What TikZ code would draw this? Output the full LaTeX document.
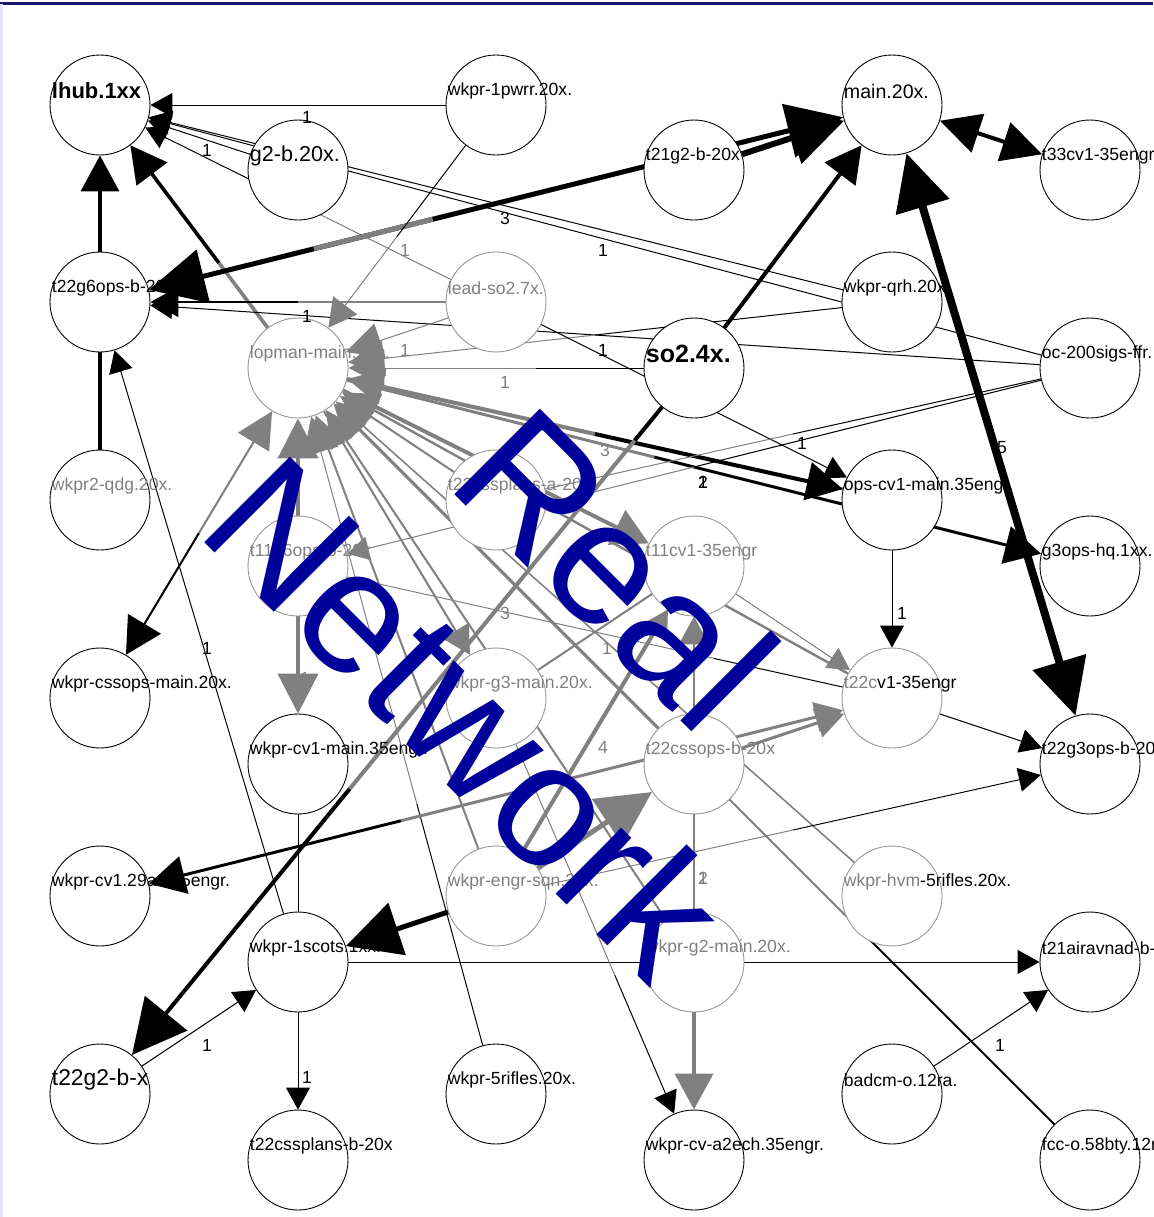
\documentclass[tikz,border=0pt]{standalone}
\usepackage{fontspec}
\setmainfont{Liberation Sans}
\usetikzlibrary{arrows.meta,calc,backgrounds}
\definecolor{wmblue}{RGB}{0,0,155}
\definecolor{edgegray}{RGB}{128,128,128}
\definecolor{ringgray}{RGB}{150,150,150}
\definecolor{framenavy}{RGB}{20,20,110}
\definecolor{leftedge}{RGB}{225,228,240}
\tikzset{
  vtx/.style={circle,draw=black,fill=white,line width=0.45pt,minimum size=50pt,inner sep=0pt},
  gvtx/.style={vtx,draw=ringgray},
  lbl/.style={font=\fontsize{8.8}{10}\selectfont,inner sep=0pt,anchor=west,xshift=1pt,yshift=7pt},
  glbl/.style={lbl,text=edgegray},
  wt/.style={font=\fontsize{8.8}{10}\selectfont,inner sep=0pt},
  gwt/.style={wt,text=edgegray},
  thinedge/.style={line width=0.5pt},
  tipS/.style={-{Triangle[length=11pt,width=12pt]}},
  tipM/.style={-{Triangle[length=14pt,width=15pt]}},
  tipG/.style={-{Triangle[length=18pt,width=18pt]}},
  tipL/.style={-{Triangle[length=18pt,width=19pt]}},
  tipX/.style={-{Triangle[length=27pt,width=27pt]}},
  rtipL/.style={{Triangle[length=18pt,width=19pt]}-},
  dtipL/.style={{Triangle[length=20pt,width=20pt]}-{Triangle[length=20pt,width=20pt]}},
  dtipX/.style={{Triangle[length=28pt,width=27pt]}-{Triangle[length=28pt,width=27pt]}},
  wm/.style={font=\fontsize{88}{105}\selectfont,text=wmblue,rotate=-45,inner sep=0pt,anchor=base}
}
\begin{document}
\begin{tikzpicture}[x=0.5pt,y=-0.5pt]
  \useasboundingbox (0,0) rectangle (1153,1217);
  % row 1
  \node[vtx,label={[lbl,font=\bfseries\fontsize{11}{12}\selectfont]west:lhub.1xx}] (lhub) at (100,105) {};
  \node[vtx,label={[lbl,font=\fontsize{10.8}{12}\selectfont]west:g2-b.20x.}] (gtwob) at (298,170) {};
  \node[vtx,label={[lbl]west:wkpr-1pwrr.20x.}] (pwrr) at (496,105) {};
  \node[vtx,label={[lbl]west:t21g2-b-20x}] (tgtwob) at (694,170) {};
  \node[vtx,label={[lbl,font=\fontsize{9.8}{11}\selectfont]west:main.20x.}] (mainx) at (892,105) {};
  \node[vtx,label={[lbl]west:t33cv1-35engr}] (tcvengr) at (1090,170) {};
  % row 2
  \node[vtx,label={[lbl]west:t22g6ops-b-20x}] (tgsix) at (100,302) {};
  \node[gvtx,label={[glbl]west:lopman-main.20x.}] (lopman) at (298,368) {};
  \node[gvtx,label={[glbl]west:lead-so2.7x.}] (leadso) at (496,302) {};
  \node[vtx,label={[lbl,font=\bfseries\fontsize{12.5}{14}\selectfont]west:so2.4x.}] (sotwo) at (694,368) {};
  \node[vtx,label={[lbl]west:wkpr-qrh.20x.}] (qrh) at (892,302) {};
  \node[vtx,label={[lbl]west:oc-200sigs-ffr.}] (ocsigs) at (1090,368) {};
  % row 3
  \node[vtx,label={[glbl]west:wkpr2-qdg.20x.}] (qdg) at (100,500) {};
  \node[gvtx,label={[glbl]west:t11g6ops-b-20x}] (tsixb) at (298,566) {};
  \node[gvtx,label={[glbl]west:t22cssplans-a-20x}] (tcssa) at (496,500) {};
  \node[gvtx,label={[glbl]west:t11cv1-35engr}] (televen) at (694,566) {};
  \node[vtx,label={[lbl]west:ops-cv1-main.35engr.}] (opscv) at (892,500) {};
  \node[vtx,label={[lbl]west:g3ops-hq.1xx.}] (gthq) at (1090,566) {};
  % row 4
  \node[vtx,label={[lbl]west:wkpr-cssops-main.20x.}] (cssops) at (100,698) {};
  \node[vtx,label={[lbl]west:wkpr-cv1-main.35engr.}] (cvmain) at (298,764) {};
  \node[gvtx,label={[glbl]west:wkpr-g3-main.20x.}] (gthree) at (496,698) {};
  \node[gvtx,label={[glbl]west:t22cssops-b-20x}] (tcssops) at (694,764) {};
  \node[gvtx,label={[lbl]west:{\textcolor{edgegray}{t22c}v1-35engr}}] (tcv) at (892,698) {};
  \node[vtx,label={[lbl]west:t22g3ops-b-20x}] (tgthb) at (1090,764) {};
  % row 5
  \node[vtx,label={[lbl]west:wkpr-cv1.29ad.35engr.}] (cvnine) at (100,896) {};
  \node[vtx,label={[lbl]west:wkpr-1scots.1xx.}] (scots) at (298,962) {};
  \node[gvtx,label={[glbl]west:wkpr-engr-sqn.20x.}] (engr) at (496,896) {};
  \node[gvtx,label={[glbl]west:wkpr-g2-main.20x.}] (gtwomain) at (694,962) {};
  \node[gvtx,label={[lbl]west:{\textcolor{edgegray}{wkpr-hvm}-5rifles.20x.}}] (hvm) at (892,896) {};
  \node[vtx,label={[lbl]west:t21airavnad-b-20x}] (air) at (1090,962) {};
  % row 6
  \node[vtx,label={[lbl,font=\fontsize{11.4}{13}\selectfont]west:t22g2-b-x}] (tgtwobx) at (100,1094) {};
  \node[vtx,label={[lbl]west:t22cssplans-b-20x}] (cssplans) at (298,1160) {};
  \node[vtx,label={[lbl]west:wkpr-5rifles.20x.}] (rifles) at (496,1094) {};
  \node[vtx,label={[lbl]west:wkpr-cv-a2ech.35engr.}] (aech) at (694,1160) {};
  \node[vtx,label={[lbl]west:badcm-o.12ra.}] (badcm) at (892,1094) {};
  \node[vtx,label={[lbl]west:fcc-o.58bty.12ra.}] (fcc) at (1090,1160) {};

  \begin{scope}[on background layer]
    \fill[white] (0,0) rectangle (1153,1217);
    % into lhub.1xx
    \draw[thinedge,tipS] (pwrr) -- (lhub);
    \draw[thinedge,tipS] (gtwob) -- (lhub);
    \draw[thinedge,tipS] (qrh) -- (lhub);
    \draw[thinedge,tipS] (ocsigs) -- (lhub);
    \draw[thinedge,edgegray] (leadso) -- ($(leadso)!.5!(lhub)$);
    \draw[thinedge,tipS] ($(leadso)!.5!(lhub)$) -- (lhub);
    \draw[line width=1.8pt,tipL] (tgsix) -- (lhub);
    \draw[line width=1.8pt,edgegray] (lopman) -- ($(lopman)!.4!(lhub)$);
    \draw[line width=1.8pt,tipL] ($(lopman)!.4!(lhub)$) -- (lhub);
    % main.20x.
    \draw[line width=2.5pt,dtipX] (tgsix) -- (mainx);
    \draw[line width=2.5pt,edgegray] ($(tgsix)!.27!(mainx)$) -- ($(tgsix)!.42!(mainx)$);
    \draw[line width=3pt,tipX] (tgtwob) -- (mainx);
    \draw[line width=2pt,tipL] (sotwo) -- (mainx);
    \draw[line width=2pt,dtipL] (mainx) -- (tcvengr);
    \draw[line width=4pt,dtipX] (mainx) -- (tgthb);
    % t22g6ops-b-20x
    \draw[line width=0.8pt,edgegray] (leadso) -- ($(leadso)!.5!(tgsix)$);
    \draw[line width=0.8pt,tipM] ($(leadso)!.5!(tgsix)$) -- (tgsix);
    \draw[thinedge,tipS] (ocsigs) -- (tgsix);
    \draw[thinedge,tipS] (scots) -- (tgsix);
    \draw[line width=1.8pt] (qdg) -- (tgsix);
    % into lopman-main.20x.
    \draw[thinedge] (pwrr) -- ($(pwrr)!.5!(lopman)$);
    \draw[thinedge,edgegray,tipM] ($(pwrr)!.5!(lopman)$) -- (lopman);
    \draw[thinedge,edgegray,tipG] (leadso) -- (lopman);
    \draw[thinedge] (sotwo) -- ($(sotwo)!.4!(lopman)$);
    \draw[thinedge,edgegray,tipG] ($(sotwo)!.4!(lopman)$) -- (lopman);
    \draw[thinedge] (qrh) -- ($(qrh)!.5!(lopman)$);
    \draw[thinedge,edgegray,tipG] ($(qrh)!.5!(lopman)$) -- (lopman);
    \draw[line width=1.5pt,edgegray,tipG] (tcssops) -- (lopman);
    \draw[line width=1pt,edgegray,tipG] (gtwomain) -- (lopman);
    \draw[line width=0.8pt,edgegray,tipG] (hvm) -- (lopman);
    \draw[line width=1pt] (fcc) -- ($(fcc)!.3!(lopman)$);
    \draw[line width=1pt,edgegray,tipG] ($(fcc)!.3!(lopman)$) -- (lopman);
    \draw[thinedge] (rifles) -- ($(rifles)!.4!(lopman)$);
    \draw[thinedge,edgegray,tipG] ($(rifles)!.4!(lopman)$) -- (lopman);
    \draw[line width=1pt,edgegray,tipG] (engr) -- (lopman);
    \draw[line width=1.2pt,edgegray,tipG] (tcv) -- (lopman);
    \draw[line width=1pt,edgegray,tipG] (tcssa) -- (lopman);
    \draw[line width=1.5pt,edgegray,tipG] (opscv) -- (lopman);
    \draw[line width=1pt,rtipL] (cssops) -- ($(cssops)!.5!(lopman)$);
    \draw[line width=1pt,edgegray,tipG] ($(cssops)!.5!(lopman)$) -- (lopman);
    \draw[line width=2pt,edgegray,dtipL] (lopman) -- (cvmain);
    % out of lopman-main.20x.
    \draw[line width=2pt,edgegray] (lopman) -- ($(lopman)!.5!(opscv)$);
    \draw[line width=2pt,tipL] ($(lopman)!.5!(opscv)$) -- (opscv);
    \draw[line width=1.5pt,edgegray] (lopman) -- ($(lopman)!.45!(gthq)$);
    \draw[line width=1.5pt,tipL] ($(lopman)!.45!(gthq)$) -- (gthq);
    \draw[line width=2pt,edgegray,tipL] (lopman) -- (televen);
    \draw[line width=1pt,edgegray,tipM] (lopman) -- (gthree);
    % ops-cv1, t22cv1, t22g3ops
    \draw[thinedge,tipS] (leadso) -- (opscv);
    \draw[thinedge,tipS] (opscv) -- (tcv);
    \draw[thinedge,tipS] (tcv) -- (tgthb);
    \draw[thinedge,edgegray] (engr) -- ($(engr)!.5!(tgthb)$);
    \draw[thinedge,tipS] ($(engr)!.5!(tgthb)$) -- (tgthb);
    \draw[thinedge] (ocsigs) -- ($(ocsigs)!.5!(tsixb)$);
    \draw[thinedge,edgegray,tipS] ($(ocsigs)!.5!(tsixb)$) -- (tsixb);
    \draw[thinedge] (ocsigs) -- ($(ocsigs)!.5!(tcssa)$);
    \draw[thinedge,edgegray] ($(ocsigs)!.5!(tcssa)$) -- (tcssa);
    \draw[thinedge] (tcv) -- ($(tcv)!.3!(tsixb)$);
    \draw[thinedge,edgegray] ($(tcv)!.3!(tsixb)$) -- (tsixb);
    \draw[thinedge,edgegray,tipS] (televen) -- (tcv);
    \draw[line width=1.5pt,edgegray,tipM] (tcssops) -- (tcv);
    \draw[line width=1pt,edgegray,tipM] (tcssops) -- (televen);
    \draw[line width=1pt,edgegray] (gthree) -- (televen);
    % lower part
    \draw[line width=2pt] (sotwo) -- ($(sotwo)!.1!(tgtwobx)$);
    \draw[line width=2pt,edgegray] ($(sotwo)!.1!(tgtwobx)$) -- ($(sotwo)!.58!(tgtwobx)$);
    \draw[line width=2pt,tipX] ($(sotwo)!.58!(tgtwobx)$) -- (tgtwobx);
    \draw[line width=1.5pt,rtipL] (cvnine) -- ($(cvnine)!.38!(tcv)$);
    \draw[line width=1.5pt,edgegray,tipM] ($(cvnine)!.38!(tcv)$) -- (tcv);
    \draw[thinedge,tipS] (tgtwobx) -- (scots);
    \draw[thinedge,tipS] (scots) -- (cssplans);
    \draw[thinedge,tipS] (scots) -- (air);
    \draw[thinedge,tipS] (badcm) -- (air);
    \draw[thinedge] (scots) -- (cvmain);
    \draw[line width=2pt,edgegray,tipL] (gtwomain) -- (aech);
    \draw[thinedge,edgegray] (gthree) -- ($(gthree)!.6!(aech)$);
    \draw[thinedge,tipS] ($(gthree)!.6!(aech)$) -- (aech);
    \draw[line width=1pt,edgegray] (tcssops) -- (gtwomain);
    \draw[line width=2.5pt,tipX] (engr) -- (scots);
    \draw[line width=2.5pt,edgegray,tipX] (engr) -- (tcssops);
    \draw[line width=2pt,edgegray,tipM] (engr) -- (televen);
  \end{scope}

  % edge weights
  \node[wt] (w1) at (307,117) {1};
  \node[wt] (w2) at (207,150) {1};
  \node[wt] (w3) at (603,250) {1};
  \node[gwt] (w4) at (405,250) {1};
  \node[wt] (w5) at (505,218) {3};
  \node[wt] (w6) at (307,316) {1};
  \node[gwt] (w7) at (405,350) {1};
  \node[wt] (w8) at (603,350) {1};
  \node[gwt] (w9) at (505,382) {1};
  \node[gwt] (w10) at (605,450) {3};
  \node[wt] (w11) at (703,482) {1};
  \node[wt] (w12) at (703,482) {2};
  \node[wt] (w13) at (802,443) {1};
  \node[wt] (w14) at (1002,448) {5};
  \node[wt] (w15) at (902,613) {1};
  \node[gwt] (w16) at (305,678) {1};
  \node[wt] (w17) at (207,648) {1};
  \node[gwt] (w18) at (505,613) {3};
  \node[gwt] (w19) at (607,648) {1};
  \node[gwt] (w20) at (603,747) {4};
  \node[gwt] (w21) at (703,878) {1};
  \node[gwt] (w22) at (703,878) {2};
  \node[wt] (w23) at (207,1045) {1};
  \node[wt] (w24) at (307,1077) {1};
  \node[wt] (w25) at (1000,1045) {1};

  % frame and watermark
  \draw[framenavy,line width=1.5pt] (0,3) -- (1153,3);
  \draw[leftedge,line width=1.5pt] (1.5,4) -- (1.5,1217);
  \node[wm] (wmreal) at (572,612) {Real};
  \node[wm] (wmnet) at (423,761) {Network};
\end{tikzpicture}
\end{document}
